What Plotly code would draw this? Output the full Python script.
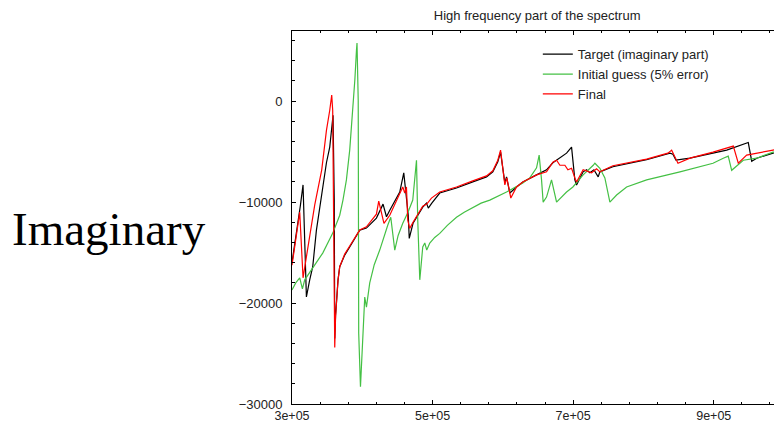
import plotly.graph_objects as go

# Frequency samples and imaginary part of each spectrum
target_x = [300000, 304000, 308100, 312000, 315700, 317500, 320500, 325200, 329500, 334700,
            340900, 349000, 353700, 356500, 358400, 360100, 360800, 362000, 363200, 365500,
            367900, 375000, 382100, 396400, 405900, 420100, 429500, 434400, 439100, 453300,
            459000, 465400, 466800, 472200, 486000, 491300, 493900, 498900, 510200, 534000,
            557200, 576700, 585700, 592800, 596700, 599500, 602800, 605200, 609900, 619400,
            628400, 647900, 662100, 671100, 690600, 697700, 702400, 704800, 714200, 719100,
            723800, 729500, 735600, 738000, 756500, 804500, 837700, 841900, 846200, 866100,
            898900, 918400, 949100, 954000, 961100, 984300, 994300]
target_y = [-16000, -14200, -12300, -10300, -8300, -13500, -19400, -17700, -16400, -12800,
            -9800, -6100, -4550, -2400, -1400, -9800, -23500, -21200, -19700, -17700,
            -16400, -15250, -14450, -12770, -12570, -11580, -10200, -11450, -10800, -9000,
            -7100, -11300, -13600, -12100, -10500, -10100, -10600, -10100, -9100, -8600,
            -8000, -7500, -7000, -6000, -5050, -6500, -8100, -7500, -9100, -8500,
            -8000, -7300, -6800, -6100, -5150, -4550, -7800, -8300, -7000, -6800,
            -7100, -6800, -7500, -7000, -6500, -5800, -5150, -5250, -5850, -5650,
            -5150, -4850, -4100, -5950, -5650, -5150, -5050]

guess_x = [300000, 305300, 311000, 314800, 318100, 325200, 334000, 343700, 358000, 367900,
           372500, 377400, 382100, 386400, 389500, 391700, 392500, 394200, 394900, 397400,
           400600, 403500, 405900, 407800, 410600, 417000, 424800, 436200, 440500, 446200,
           451000, 457600, 465000, 471800, 477100, 478900, 481800, 486000, 488900, 491700,
           496000, 503000, 510200, 521000, 534000, 545000, 557200, 569000, 581400, 605200,
           628400, 638300, 647900, 651600, 655000, 657300, 662100, 669200, 676400, 690600,
           699600, 714200, 728500, 730900, 738000, 745100, 752200, 761800, 776000, 804500,
           851900, 898900, 913500, 920600, 925500, 942000, 961100, 984300, 994300]
guess_y = [-18700, -18000, -17500, -18600, -17700, -17000, -16100, -15050, -13070, -11300,
           -9800, -7800, -4850, -1200, 2200, 5050, 5750, 100, -23000, -28300,
           -23400, -19400, -20400, -19400, -18000, -16200, -14750, -12300, -11500, -14750,
           -13300, -12100, -11000, -9800, -5850, -11800, -17700, -14450, -14050, -14750,
           -14050, -13500, -13100, -12300, -11500, -11000, -10500, -10100, -9800, -9000,
           -8100, -7600, -6600, -5350, -7800, -10000, -9500, -7800, -10000, -9000,
           -8500, -7300, -6350, -6150, -6650, -7600, -10000, -9300, -8500, -7800,
           -7000, -6150, -5650, -5450, -6850, -5850, -5650, -5050, -4950]

final_x = [300000, 305300, 311000, 315700, 318100, 322300, 332300, 342300, 349000, 353700,
           356500, 357900, 360100, 360800, 362000, 363200, 365500, 367900, 375000, 382100,
           396400, 405900, 420100, 423400, 430800, 439100, 453300, 457600, 460400, 462800,
           464700, 467500, 472200, 486000, 491700, 498400, 510200, 534000, 557200, 576700,
           585700, 592800, 596700, 599500, 602800, 605600, 611300, 619400, 628400, 647900,
           662100, 671100, 676400, 681100, 688200, 692500, 697700, 702400, 704800, 714200,
           726200, 733300, 738000, 756500, 804500, 834800, 840100, 849100, 866100, 898900,
           918400, 927800, 934900, 946800, 984300, 994300]
final_y = [-16250, -13750, -11000, -17500, -16500, -14750, -10300, -6800, -2900, -900,
           600, -900, -14750, -24400, -21300, -19700, -17700, -16400, -15150, -14350,
           -12770, -12450, -11200, -9900, -12100, -11300, -9100, -8500, -9100, -8500,
           -11800, -12600, -12000, -10400, -10200, -9600, -9000, -8500, -7900, -7400,
           -6900, -5850, -4850, -6650, -8300, -7600, -9600, -8500, -8000, -7300,
           -7000, -6050, -5850, -6350, -6350, -6800, -6650, -7600, -8000, -6800,
           -7100, -6700, -7000, -6400, -5750, -5150, -4850, -6150, -5650, -5050,
           -4650, -4450, -6150, -5350, -4850, -4750]

x_ticks = [300000, 500000, 700000, 900000]
x_tick_text = ["3e+05", "5e+05", "7e+05", "9e+05"]
y_ticks = [-30000, -20000, -10000, 0]
y_tick_text = ["\u221230000", "\u221220000", "\u221210000", "0"]

fig = go.Figure()
fig.add_trace(go.Scatter(x=target_x, y=target_y, mode="lines", name="Target (imaginary part)",
                         line=dict(color="#000000", width=1.2)))
fig.add_trace(go.Scatter(x=guess_x, y=guess_y, mode="lines", name="Initial guess (5% error)",
                         line=dict(color="#44c044", width=1.2)))
fig.add_trace(go.Scatter(x=final_x, y=final_y, mode="lines", name="Final",
                         line=dict(color="#ff0000", width=1.2)))

sans = "Liberation Sans, Arial, sans-serif"
axis_font = dict(family=sans, size=13, color="#222222")

fig.update_layout(
    width=774, height=423,
    margin=dict(l=292, r=0, t=31, b=19, autoexpand=False),
    paper_bgcolor="white", plot_bgcolor="white",
    title=dict(text="High frequency part of the spectrum", x=0.694, xref="container",
               xanchor="center", y=0.963, yref="container", yanchor="middle",
               font=dict(family=sans, size=13, color="#222222")),
    legend=dict(x=0.51, y=0.978, xanchor="left", yanchor="top", bgcolor="rgba(0,0,0,0)",
                font=dict(family=sans, size=13, color="#222222"),
                tracegroupgap=0),
    xaxis=dict(range=[300000, 985700], showgrid=False, zeroline=False, automargin=False,
               showline=True, linecolor="black", linewidth=1, mirror="ticks",
               ticks="inside", ticklen=4, tickcolor="black",
               tickvals=x_ticks, ticktext=x_tick_text,
               tickfont=dict(family=sans, size=12.5, color="#222222"),
               ticklabelstandoff=0,
               minor=dict(tickmode="linear", tick0=300000, dtick=40000, ticks="inside",
                          ticklen=2, tickcolor="black", showgrid=False)),
    yaxis=dict(range=[-30000, 6950], showgrid=False, zeroline=False, automargin=False,
               showline=True, linecolor="black", linewidth=1,
               ticks="inside", ticklen=4, tickcolor="black",
               tickvals=y_ticks, ticktext=y_tick_text, tickfont=axis_font,
               ticklabelstandoff=6,
               minor=dict(tickmode="linear", tick0=0, dtick=2000, ticks="inside",
                          ticklen=3, tickcolor="black", showgrid=False)),
    annotations=[dict(text="Imaginary", xref="paper", yref="paper", x=-0.38, y=0.468,
                      xanchor="center", yanchor="middle", showarrow=False,
                      font=dict(family="Liberation Serif, Times New Roman, serif", size=47,
                                color="black"))],
)

fig.write_html("out.html")
